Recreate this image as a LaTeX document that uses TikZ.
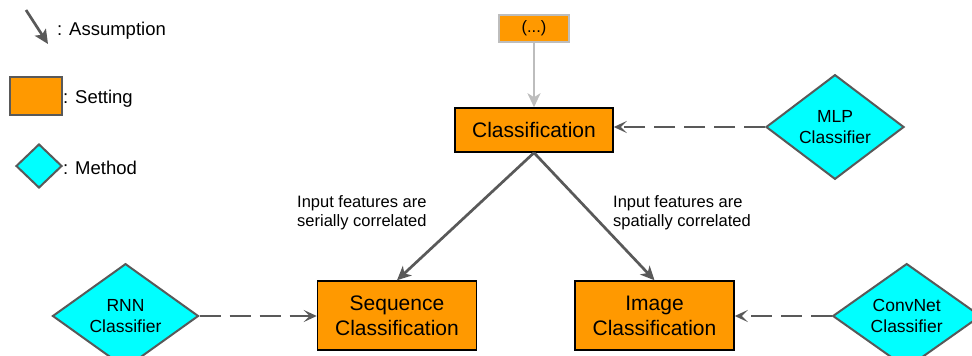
\documentclass[tikz,border=0pt]{standalone}
\usepackage{fontspec}
\setmainfont{Liberation Sans}
\usetikzlibrary{shapes.geometric,arrows.meta}
\definecolor{gorange}{HTML}{FF9900}
\definecolor{gcyan}{HTML}{00FFFF}
\definecolor{dgray}{HTML}{595959}
\definecolor{lgray}{HTML}{BDBDBD}
\begin{document}
\begin{tikzpicture}[x=1pt,y=-1pt,
 setting/.style={draw=black, line width=1.5pt, fill=gorange, inner sep=0pt, align=center, font=\fontsize{21}{25}\selectfont},
 method/.style={diamond, draw=dgray, line width=2pt, fill=gcyan, inner sep=0pt, align=center, font=\fontsize{17.5}{20.5}\selectfont},
 assume/.style={draw=dgray, line width=2.7pt, -{Stealth[length=14pt,width=13pt,inset=4pt]}},
 usedby/.style={draw=dgray, line width=2.8pt, dash pattern=on 21pt off 9pt, -{Stealth[length=13pt,width=12pt,inset=6pt]}},
 lbl/.style={inner sep=0pt, align=left, font=\fontsize{16.5}{18.5}\selectfont},
 legendtext/.style={inner sep=0pt, font=\fontsize{18.5}{22}\selectfont}]
\clip (0,0) rectangle (972,356);
% settings
\node[setting, minimum width=158pt, minimum height=44pt] (cls) at (534,130) {Classification};
\node[setting, minimum width=159pt, minimum height=69pt] (seq) at (397,315.5) {Sequence\\Classification};
\node[setting, minimum width=159pt, minimum height=69pt] (img) at (654.5,315.5) {Image\\Classification};
\node[setting, draw=lgray, line width=2.5pt, minimum width=70pt, minimum height=27pt, font=\fontsize{16.5}{19}\selectfont] (dots) at (534,28.5) {(...)};
% methods
\node[method, minimum width=138pt, minimum height=76pt] (mlp) at (835,127) {MLP\\Classifier};
\node[method, minimum width=146pt, minimum height=88pt] (rnn) at (125.5,316) {RNN\\Classifier};
\node[method, minimum width=148pt, minimum height=88pt] (cnn) at (906.7,316) {ConvNet\\Classifier};
% connectors
\draw[lgray, line width=2.8pt, -{Stealth[length=14pt,width=13pt,inset=4pt]}] (dots) -- (cls);
\draw[assume] (cls.south) -- (seq.north);
\draw[assume] (cls.south) -- (img.north);
\draw[usedby] (mlp.west) -- (mlp.west -| cls.east);
\draw[usedby] (rnn.east) -- (rnn.east -| seq.west);
\draw[usedby] (cnn.west) -- (cnn.west -| img.east);
% labels
\node[lbl, anchor=west] (l1) at (297,212.5) {Input features are\\serially correlated};
\node[lbl, anchor=west] (l2) at (613,212.5) {Input features are\\spatially correlated};
% legend
\coordinate (a0) at (26,10);
\coordinate (a1) at (48,44);
\draw[assume, -{Stealth[length=14pt,width=13pt,inset=3pt]}] (a0) -- (a1);
\node[legendtext, anchor=base west] (la) at (57,35) {: Assumption};
\node[draw=dgray, line width=2pt, fill=gorange, minimum width=52pt, minimum height=38pt, inner sep=0pt] (ls) at (36,96) {};
\node[legendtext, anchor=base west] (lst) at (63,103) {: Setting};
\node[diamond, draw=dgray, line width=2pt, fill=gcyan, minimum width=46pt, minimum height=44pt, inner sep=0pt] (lm) at (39,166) {};
\node[legendtext, anchor=base west] (lmt) at (63,174) {: Method};
\end{tikzpicture}
\end{document}
